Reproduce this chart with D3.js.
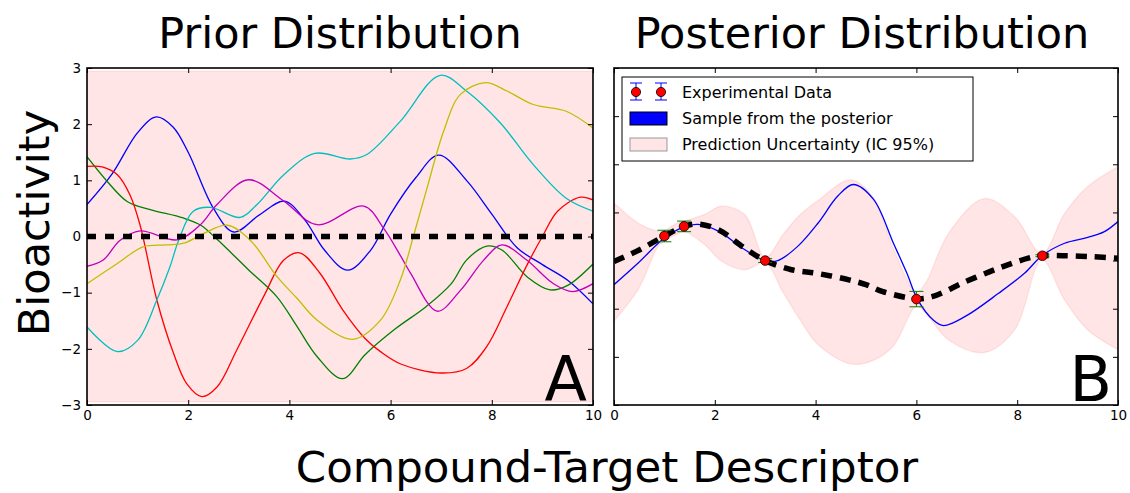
<!DOCTYPE html>
<html>
<head>
<meta charset="utf-8">
<script src="https://cdn.jsdelivr.net/npm/d3@7"></script>
<style>
  body { margin: 0; background: #fff; }
  svg { display: block; font-family: "DejaVu Sans", sans-serif; }
</style>
</head>
<body>
<div id="chart"></div>
<script>
// Prior samples (x, y)
const priorBlue = [[0,0.57],[0.5,1.12],[1,1.85],[1.37,2.13],[1.7,1.95],[2,1.5],[2.5,0.5],[2.9,0.08],[3.4,0.38],[3.9,0.63],[4.3,0.3],[4.7,-0.25],[5.15,-0.6],[5.6,-0.25],[6,0.4],[6.5,1.05],[6.95,1.45],[7.5,1.0],[8,0.4],[8.5,-0.2],[9,-0.5],[9.5,-0.78],[10,-1.2]];
const priorGreen = [[0,1.42],[0.4,0.98],[0.8,0.62],[1.25,0.48],[1.9,0.33],[2.25,0.2],[2.57,-0.05],[3.2,-0.6],[3.75,-1.07],[4.15,-1.6],[4.55,-2.14],[5.05,-2.53],[5.5,-2.1],[6.1,-1.64],[6.7,-1.25],[7.2,-0.84],[7.5,-0.42],[7.9,-0.17],[8.2,-0.24],[8.7,-0.72],[9.15,-0.95],[9.5,-0.87],[10,-0.49]];
const priorRed = [[0,1.25],[0.3,1.24],[0.6,1.1],[0.85,0.74],[1.05,0.2],[1.38,-1.13],[1.71,-2.08],[1.97,-2.62],[2.27,-2.85],[2.57,-2.68],[2.96,-2.02],[3.49,-1.07],[3.89,-0.42],[4.2,-0.29],[4.6,-0.65],[5.05,-1.3],[5.5,-1.82],[5.8,-2.05],[6.2,-2.27],[7,-2.43],[7.5,-2.35],[7.9,-1.96],[8.3,-1.25],[8.7,-0.5],[9,0.0],[9.3,0.45],[9.75,0.7],[10,0.65]];
const priorCyan = [[0,-1.61],[0.6,-2.05],[1,-1.85],[1.38,-1.13],[1.64,-0.54],[1.81,-0.07],[2.1,0.45],[2.44,0.52],[3.03,0.34],[3.36,0.57],[3.89,1.1],[4.5,1.48],[5.2,1.38],[5.53,1.46],[6.19,2.05],[6.98,2.87],[7.5,2.59],[8.17,2.02],[8.82,1.28],[9.47,0.68],[10,0.45]];
const priorMagenta = [[0,-0.53],[0.32,-0.42],[0.65,-0.07],[1.05,0.1],[1.78,-0.06],[2.24,0.21],[2.57,0.57],[3.19,1.01],[3.89,0.63],[4.55,0.21],[5.47,0.54],[5.86,0.15],[6.2,-0.35],[6.4,-0.66],[6.92,-1.33],[7.38,-0.96],[7.84,-0.42],[8.2,-0.15],[8.69,-0.42],[9.22,-0.84],[9.6,-0.98],[10,-0.84]];
const priorYellow = [[0,-0.84],[0.6,-0.48],[1.12,-0.18],[1.58,-0.15],[1.91,-0.12],[2.3,0.05],[2.77,0.2],[3.23,-0.07],[3.76,-0.72],[4.15,-1.1],[4.55,-1.49],[5.25,-1.83],[5.8,-1.49],[6.19,-0.78],[6.45,0],[6.72,0.86],[7.05,1.88],[7.38,2.53],[7.88,2.74],[8.3,2.59],[8.82,2.35],[9.47,2.23],[10,1.93]];
const priorMean = [[0,0],[10,0]];
const priorBand = [[0,-2.94,2.94],[10,-2.94,2.94]];

// Posterior, panel B
const obsX = [1.0, 1.39, 3.0, 6.0, 8.5];
const obsY = [0.51, 0.71, 0.0, -0.8, 0.1];
const obsErr = [0.12, 0.11, 0.04, 0.16, 0.02];
const postMean = [[0,-0.02],[0.5,0.22],[1,0.51],[1.39,0.71],[1.67,0.76],[2.07,0.64],[2.59,0.26],[3,0.0],[3.52,-0.19],[4.05,-0.27],[4.66,-0.4],[5,-0.5],[5.32,-0.64],[5.98,-0.79],[6.31,-0.75],[6.97,-0.44],[7.63,-0.16],[8.22,0.05],[8.49,0.1],[8.94,0.1],[9.5,0.08],[10,0.05]];
const postSample = [[0,-0.5],[0.48,-0.05],[1,0.47],[1.39,0.7],[1.67,0.75],[2.07,0.61],[2.59,0.23],[3,0.0],[3.25,0.0],[3.65,0.3],[4.05,0.78],[4.44,1.34],[4.75,1.58],[5.15,1.27],[5.54,0.37],[5.81,-0.26],[6.02,-0.8],[6.33,-1.23],[6.54,-1.35],[6.97,-1.16],[7.63,-0.68],[8.15,-0.26],[8.49,0.1],[8.94,0.36],[9.4,0.48],[9.73,0.6],[10,0.81]];
const postBand = [[0,-1.26,1.2],[0.48,-0.6,0.78],[0.88,0.3,0.61],[1,0.4,0.62],[1.2,0.52,0.75],[1.39,0.6,0.82],[1.8,0.33,0.96],[2.13,-0.01,1.13],[2.59,-0.19,0.96],[3,-0.05,0.06],[3.36,-0.67,0.55],[3.69,-1.23,0.95],[4.05,-1.75,1.25],[4.7,-2.15,1.68],[5.15,-2.07,1.3],[5.54,-1.78,0.25],[6,-0.95,-0.65],[6.18,-1.09,-0.47],[6.64,-1.65,0.57],[7.35,-1.91,1.29],[7.95,-1.44,0.91],[8.49,0.01,0.15],[8.94,-0.82,0.98],[9.4,-1.44,1.54],[10,-1.85,1.95]];

const xTicks = [0, 2, 4, 6, 8, 10];
const priorYTicks = [-3, -2, -1, 0, 1, 2, 3];
const postYTicks = [-3, -2, -1, 0, 1, 2, 3, 4];
const legendLabels = ["Experimental Data", "Sample from the posterior", "Prediction Uncertainty (IC 95%)"];

const W = 1130, H = 493;
const svg = d3.select("#chart").append("svg").attr("width", W).attr("height", H);

const pinkFill = "rgba(255,0,0,0.1)";
const pinkEdge = "rgba(255,0,0,0.08)";
const smooth = d3.curveCatmullRom.alpha(0.5);

function panel(x0, x1, yDomain, yTicks, showYLabels) {
    const x = d3.scaleLinear().domain([0, 10]).range([x0, x1]);
    const y = d3.scaleLinear().domain(yDomain).range([405, 68]);
    const g = svg.append("g");
    const clip = "clip" + x0;
    svg.append("clipPath").attr("id", clip).append("rect")
        .attr("x", x0).attr("y", 68).attr("width", x1 - x0).attr("height", 337);
    const plot = g.append("g").attr("clip-path", `url(#${clip})`);
    return { x, y, g, plot, yTicks, showYLabels };
}

function drawAxes(p) {
    const { x, y, g } = p;
    const [x0, x1] = x.range();
    const [yb, yt] = y.range();
    const style = sel => {
        sel.select(".domain").remove();
        sel.selectAll(".tick line").attr("stroke", "#000").attr("stroke-width", 1);
        sel.selectAll("text").attr("font-size", 13.5).attr("fill", "#000")
            .attr("font-family", "DejaVu Sans, sans-serif");
    };
    g.append("g").attr("transform", `translate(0,${yb})`)
        .call(d3.axisBottom(x).tickValues(xTicks).tickSize(-5).tickPadding(5)).call(style);
    g.append("g").attr("transform", `translate(0,${yt})`)
        .call(d3.axisTop(x).tickValues(xTicks).tickSize(-5).tickFormat("")).call(style);
    g.append("g").attr("transform", `translate(${x0},0)`)
        .call(d3.axisLeft(y).tickValues(p.yTicks).tickSize(-5).tickPadding(6)
            .tickFormat(p.showYLabels ? d3.format("d") : "")).call(style);
    g.append("g").attr("transform", `translate(${x1},0)`)
        .call(d3.axisRight(y).tickValues(p.yTicks).tickSize(-5).tickFormat("")).call(style);
    g.append("rect").attr("x", x0).attr("y", yt).attr("width", x1 - x0).attr("height", yb - yt)
        .attr("fill", "none").attr("stroke", "#000").attr("stroke-width", 1.6);
}

function band(p, data) {
    p.plot.append("path").datum(data)
        .attr("fill", pinkFill).attr("stroke", pinkEdge).attr("stroke-width", 1.5)
        .attr("d", d3.area().x(d => p.x(d[0])).y0(d => p.y(d[1])).y1(d => p.y(d[2]))
            .curve(smooth));
}

function line(p, data, color, width, dash) {
    const path = p.plot.append("path").datum(data)
        .attr("fill", "none").attr("stroke", color).attr("stroke-width", width)
        .attr("d", d3.line().x(d => p.x(d[0])).y(d => p.y(d[1])).curve(smooth));
    if (dash) path.attr("stroke-dasharray", dash);
    return path;
}

// Panel A: prior
const A = panel(87, 593, [-3, 3], priorYTicks, true);
band(A, priorBand);
const priorSeries = [
    { pts: priorBlue, color: "#0000ff" },
    { pts: priorGreen, color: "#008000" },
    { pts: priorRed, color: "#ff0000" },
    { pts: priorCyan, color: "#00bfbf" },
    { pts: priorMagenta, color: "#bf00bf" },
    { pts: priorYellow, color: "#bfbf00" }
];
priorSeries.forEach(s => line(A, s.pts, s.color, 1.3));
line(A, priorMean, "#000", 5.5, "9,9");
drawAxes(A);

// Panel B: posterior
const B = panel(614, 1118, [-3, 4], postYTicks, false);
band(B, postBand);
line(B, postSample, "#0000ff", 1.3);
line(B, postMean, "#000", 5.5, "11,8");

const obs = obsX.map((v, i) => ({ x: v, y: obsY[i], e: obsErr[i] }));
const eb = B.plot.append("g").selectAll("g").data(obs).enter().append("g");
eb.append("line")
    .attr("x1", d => B.x(d.x)).attr("x2", d => B.x(d.x))
    .attr("y1", d => B.y(d.y - d.e)).attr("y2", d => B.y(d.y + d.e))
    .attr("stroke", "#008000").attr("stroke-width", 1);
[-1, 1].forEach(s => {
    eb.append("line")
        .attr("x1", d => B.x(d.x) - 7).attr("x2", d => B.x(d.x) + 7)
        .attr("y1", d => B.y(d.y + s * d.e)).attr("y2", d => B.y(d.y + s * d.e))
        .attr("stroke", "#008000").attr("stroke-width", 1);
});
eb.append("circle")
    .attr("cx", d => B.x(d.x)).attr("cy", d => B.y(d.y)).attr("r", 4.8)
    .attr("fill", "#ff0000").attr("stroke", "#000").attr("stroke-width", 0.8);
drawAxes(B);

// Legend
const lg = svg.append("g");
lg.append("rect").attr("x", 622).attr("y", 77).attr("width", 351).attr("height", 84)
    .attr("fill", "#fff").attr("stroke", "#000").attr("stroke-width", 1);
[636, 661].forEach(cx => {
    lg.append("line").attr("x1", cx).attr("x2", cx).attr("y1", 83).attr("y2", 100)
        .attr("stroke", "#0000ff").attr("stroke-width", 1);
    [83, 100].forEach(cy => lg.append("line").attr("x1", cx - 6).attr("x2", cx + 6)
        .attr("y1", cy).attr("y2", cy).attr("stroke", "#0000ff").attr("stroke-width", 1));
    lg.append("circle").attr("cx", cx).attr("cy", 92).attr("r", 4.6)
        .attr("fill", "#ff0000").attr("stroke", "#000").attr("stroke-width", 0.8);
});
lg.append("rect").attr("x", 630).attr("y", 112).attr("width", 37).attr("height", 13)
    .attr("fill", "#0000ff").attr("stroke", "#000").attr("stroke-width", 1);
lg.append("rect").attr("x", 630).attr("y", 138).attr("width", 37).attr("height", 13)
    .attr("fill", "#ffe5e5").attr("stroke", "#999").attr("stroke-width", 1);
lg.selectAll("text.lab").data(legendLabels).enter().append("text")
    .attr("x", 682).attr("y", (d, i) => 98 + i * 26)
    .attr("font-size", 16).attr("fill", "#000").text(d => d);

// Titles and big letters
const big = (txt, x, y, size, anchor, rot) => {
    const t = svg.append("text").attr("x", x).attr("y", y).attr("font-size", size)
        .attr("text-anchor", anchor).attr("fill", "#000").text(txt);
    if (rot) t.attr("transform", `rotate(-90,${x},${y})`);
    return t;
};
big("Prior Distribution", 340, 48, 43, "middle");
big("Posterior Distribution", 862, 48, 43, "middle");
big("Compound-Target Descriptor", 607, 482, 43.5, "middle");
big("Bioactivity", 49, 223, 43, "middle", true);
big("A", 587, 401, 62, "end");
big("B", 1112, 401, 62, "end");
</script>
</body>
</html>
